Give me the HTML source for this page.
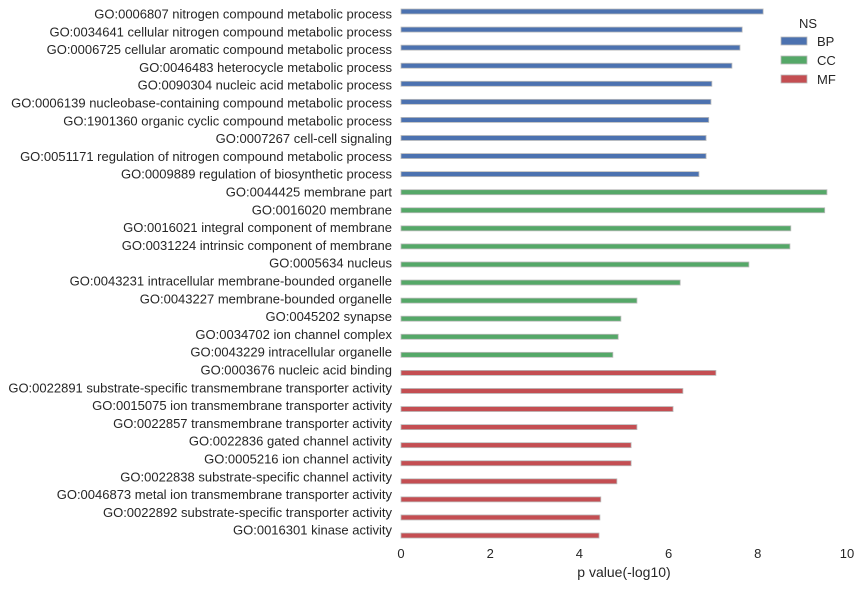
<!DOCTYPE html>
<html><head><meta charset="utf-8"><style>
body{margin:0;background:#fff;font-family:"Liberation Sans",sans-serif;}
svg text{font-family:"Liberation Sans",sans-serif;}
</style></head><body>
<svg width="862" height="587" id="chart"></svg>
<script>
const labels=["GO:0006807 nitrogen compound metabolic process","GO:0034641 cellular nitrogen compound metabolic process","GO:0006725 cellular aromatic compound metabolic process","GO:0046483 heterocycle metabolic process","GO:0090304 nucleic acid metabolic process","GO:0006139 nucleobase-containing compound metabolic process","GO:1901360 organic cyclic compound metabolic process","GO:0007267 cell-cell signaling","GO:0051171 regulation of nitrogen compound metabolic process","GO:0009889 regulation of biosynthetic process","GO:0044425 membrane part","GO:0016020 membrane","GO:0016021 integral component of membrane","GO:0031224 intrinsic component of membrane","GO:0005634 nucleus","GO:0043231 intracellular membrane-bounded organelle","GO:0043227 membrane-bounded organelle","GO:0045202 synapse","GO:0034702 ion channel complex","GO:0043229 intracellular organelle","GO:0003676 nucleic acid binding","GO:0022891 substrate-specific transmembrane transporter activity","GO:0015075 ion transmembrane transporter activity","GO:0022857 transmembrane transporter activity","GO:0022836 gated channel activity","GO:0005216 ion channel activity","GO:0022838 substrate-specific channel activity","GO:0046873 metal ion transmembrane transporter activity","GO:0022892 substrate-specific transporter activity","GO:0016301 kinase activity"];
const values=[8.12,7.65,7.6,7.42,6.97,6.95,6.9,6.84,6.84,6.68,9.55,9.5,8.74,8.72,7.8,6.26,5.29,4.93,4.87,4.75,7.06,6.32,6.1,5.29,5.16,5.16,4.84,4.48,4.46,4.44];
const groups=["BP","BP","BP","BP","BP","BP","BP","BP","BP","BP","CC","CC","CC","CC","CC","CC","CC","CC","CC","CC","MF","MF","MF","MF","MF","MF","MF","MF","MF","MF"];
const ticks=[0,2,4,6,8,10];
const nsNames=["BP","CC","MF"];
const colors={BP:"#4c72b0",CC:"#55a868",MF:"#c44e52"};
const NS="http://www.w3.org/2000/svg";
const svg=document.getElementById('chart');
const x=v=>401+v*44.6;
const yBar=i=>9+i*18.07;
const yLab=i=>14+i*17.8;
function mk(t,a){const e=document.createElementNS(NS,t);for(const k in a)e.setAttribute(k,a[k]);svg.appendChild(e);return e;}
labels.forEach((l,i)=>{
 const t=mk('text',{x:392,y:yLab(i)+4.5,'text-anchor':'end','font-size':13,fill:'#262626'});
 t.textContent=l;
 
 
 const r=mk('rect',{x:x(0),y:yBar(i),width:x(values[i])-x(0),height:5,fill:colors[groups[i]],stroke:'#bbb','stroke-width':0.8});
 
 
});
ticks.forEach(v=>{
 const t=mk('text',{x:x(v),y:558,'text-anchor':'middle','font-size':13,fill:'#262626'});
 t.textContent=v;
 
 
});
const xt=mk('text',{x:624,y:577,'text-anchor':'middle','font-size':14,fill:'#262626'});
xt.textContent='p value(-log10)';


const lt=mk('text',{x:808,y:28,'text-anchor':'middle','font-size':13,fill:'#262626'});
lt.textContent='NS';


nsNames.forEach((n,i)=>{
 const r=mk('rect',{x:781,y:37+i*19,width:26,height:8,fill:colors[n],stroke:'#bbb','stroke-width':0.8});
 
 
 const t=mk('text',{x:817,y:46+i*19,'font-size':13,fill:'#262626'});
 t.textContent=n;
 
 
});
</script>
</body></html>
